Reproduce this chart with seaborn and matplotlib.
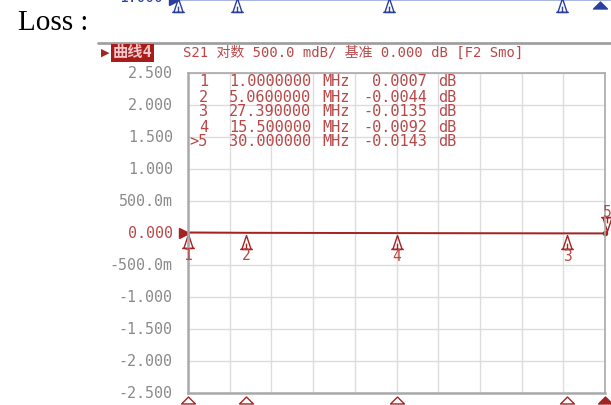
import numpy as np
import pandas as pd
import matplotlib
matplotlib.use("Agg")
import matplotlib.pyplot as plt
import seaborn as sns
from matplotlib.path import Path
from matplotlib.transforms import ScaledTranslation, blended_transform_factory

# ---------------------------------------------------------------------------
# data (S21 loss, markers 1..5)
# ---------------------------------------------------------------------------
marker_ids = ["1", "2", "3", "4", "5"]
marker_freq_mhz = [1.0, 5.06, 27.39, 15.5, 30.0]
marker_loss_db = [0.0007, -0.0044, -0.0135, -0.0092, -0.0143]
marker_freq_txt = ["1.0000000", "5.0600000", "27.390000", "15.500000", "30.000000"]
marker_loss_txt = ["0.0007", "-0.0044", "-0.0135", "-0.0092", "-0.0143"]
freq_start, freq_stop = 1.0, 30.0
ytick_vals = [2.5, 2.0, 1.5, 1.0, 0.5, 0.0, -0.5, -1.0, -1.5, -2.0, -2.5]
ytick_labels = ["2.500", "2.000", "1.500", "1.000", "500.0m", "0.000",
                "-500.0m", "-1.000", "-1.500", "-2.000", "-2.500"]
header_txt = "S21 对数 500.0 mdB/ 基准 0.000 dB [F2 Smo]"

W, H = 611, 405
RED = "#a52222"
RED_TXT = "#b84848"
GREY_TXT = "#8a8a8a"
BLUE = "#2a3f9e"
MONO = ["DejaVu Sans Mono", "Noto Sans CJK SC"]

sns.set_style("white")
plt.rcParams["font.family"] = MONO

fig = plt.figure(figsize=(W / 100, H / 100), dpi=100)
fig.patch.set_facecolor("white")

# main trace window: x 188..605 px, y 72.5..392.5 px
ax = fig.add_axes([188 / W, (H - 392.5) / H, 417 / W, 320 / H])

trace = pd.DataFrame({"freq": marker_freq_mhz, "loss": marker_loss_db}).sort_values("freq")
sns.lineplot(data=trace, x="freq", y="loss", ax=ax, color=RED, lw=1.4, clip_on=False)

ax.set_xlim(freq_start, freq_stop)
ax.set_ylim(-2.5, 2.5)
ax.set_xticks(np.linspace(freq_start, freq_stop, 11))
ax.set_yticks(ytick_vals)
ax.set_yticklabels(ytick_labels)
ax.tick_params(axis="x", length=0, labelbottom=False)
ax.tick_params(axis="y", length=0, pad=11, labelsize=10.8, labelcolor=GREY_TXT)
for lbl in ax.get_yticklabels():
    if lbl.get_text() == "0.000":
        lbl.set_color(RED_TXT)
ax.set_xlabel("")
ax.set_ylabel("")
ax.grid(True, color="#dcdcdc", lw=1.0)
for side, sp in ax.spines.items():
    sp.set_color("#a9a9a9")
    sp.set_linewidth(1.8 if side in ("left", "bottom") else 1.2)

# marker glyphs: delta with base line and a short stem
tall_tri = Path([(-4, -6), (0, 6), (4, -6), (-4, -6), (-5.5, -6), (5.5, -6), (0, -6), (0, -1)],
                [Path.MOVETO, Path.LINETO, Path.LINETO, Path.LINETO,
                 Path.MOVETO, Path.LINETO, Path.MOVETO, Path.LINETO])
tall_tri_dn = Path([(x, -y) for x, y in tall_tri.vertices], tall_tri.codes)
flat_tri = Path([(-7, -3.5), (0, 3.5), (7, -3.5), (-7, -3.5)],
                [Path.MOVETO, Path.LINETO, Path.LINETO, Path.CLOSEPOLY])

def shifted(base, dx_px, dy_px):
    return base + ScaledTranslation(dx_px / 100, dy_px / 100, fig.dpi_scale_trans)

for mid, f, v in zip(marker_ids, marker_freq_mhz, marker_loss_db):
    if mid == "5":
        ax.plot(f, v, marker=tall_tri_dn, ms=10, mfc="none", mec=RED, mew=1.0,
                transform=shifted(ax.transData, 2, 9), clip_on=False)
        ax.text(f, v, mid, color=RED_TXT, fontsize=10.5, ha="center", va="center",
                transform=shifted(ax.transData, 2, 21), clip_on=False)
        ax.plot(f, v, marker="o", ms=3, color=RED, clip_on=False)
    else:
        ax.plot(f, v, marker=tall_tri, ms=10, mfc="none", mec=RED, mew=1.0,
                transform=shifted(ax.transData, 0, -9), clip_on=False)
        ax.text(f, v, mid, color=RED_TXT, fontsize=10.5, ha="center", va="center",
                transform=shifted(ax.transData, 0, -23), clip_on=False)

# marker row under the x axis
bot = blended_transform_factory(ax.transData, ax.transAxes)
for mid, f in zip(marker_ids, marker_freq_mhz):
    ax.plot(f, 0, marker=flat_tri, ms=10, mec=RED, mew=1.0,
            mfc=RED if mid == "5" else "white",
            transform=shifted(bot, 0, -7), clip_on=False)

# reference level pointer
ax.plot(freq_start, 0.0, marker=">", ms=7, color=RED,
        transform=shifted(ax.transData, -4.5, 0), clip_on=False)

# marker readout table
def ax_xy(px, py):
    return (px - 188) / 417, (392.5 - py) / 320

for i, (mid, ft, lt) in enumerate(zip(marker_ids, marker_freq_txt, marker_loss_txt)):
    py = 82 + i * 15
    tag = ">" + mid if mid == "5" else mid
    kw = dict(transform=ax.transAxes, color=RED_TXT, fontsize=11, va="center")
    ax.text(*ax_xy(208, py), tag, ha="right", **kw)
    ax.text(*ax_xy(229, py), ft, ha="left", **kw)
    ax.text(*ax_xy(322, py), "MHz", ha="left", **kw)
    ax.text(*ax_xy(427, py), lt, ha="right", **kw)
    ax.text(*ax_xy(438, py), "dB", ha="left", **kw)

# header strip above the trace window
fig.add_artist(plt.Line2D([98 / W, 1.0], [(H - 43) / H] * 2, color="#a0a0a0", lw=2))
fig.text(101 / W, (H - 53) / H, "▶", color=RED, fontsize=8, va="center", ha="left",
         family=["DejaVu Sans"])
fig.text(113 / W, (H - 53) / H, "曲线4", color="#f2c8c8", fontsize=11, va="center",
         ha="left", fontweight="bold",
         bbox=dict(boxstyle="square,pad=0.1", fc="#a81c1c", ec="none"))
fig.text(183 / W, (H - 53) / H, header_txt, color=RED_TXT, fontsize=10,
         va="center", ha="left")

fig.text(18 / W, (H - 23) / H, "Loss :", color="black", fontsize=21,
         va="center", ha="left", family=["Liberation Serif"])

# remnant of the trace window above (same markers, cut off by the crop)
ax_top = fig.add_axes([178 / W, (H - 10) / H, 422 / W, 10 / H])
ax_top.set_xlim(freq_start, freq_stop)
ax_top.set_ylim(-1, 1)
ax_top.axis("off")
ax_top.plot([freq_start - 0.3, freq_stop + 1], [1, 1], color="#9aa6d8", lw=1.2, clip_on=False)
for mid, f in zip(marker_ids, marker_freq_mhz):
    if mid == "5":
        ax_top.plot(f, 0, marker=flat_tri, ms=10, color=BLUE, clip_on=False)
    else:
        ax_top.plot(f, 0, marker=tall_tri, ms=10, mfc="none", mec=BLUE, mew=1.0, clip_on=False)
ax_top.plot(freq_start, 1, marker=">", ms=7, color=BLUE,
            transform=shifted(ax_top.transData, -4, 0), clip_on=False)
fig.text(163 / W, (H + 2) / H, "1.000", color=BLUE, fontsize=10.5, va="center", ha="right")

fig.savefig("out.png", dpi=100, facecolor="white")
